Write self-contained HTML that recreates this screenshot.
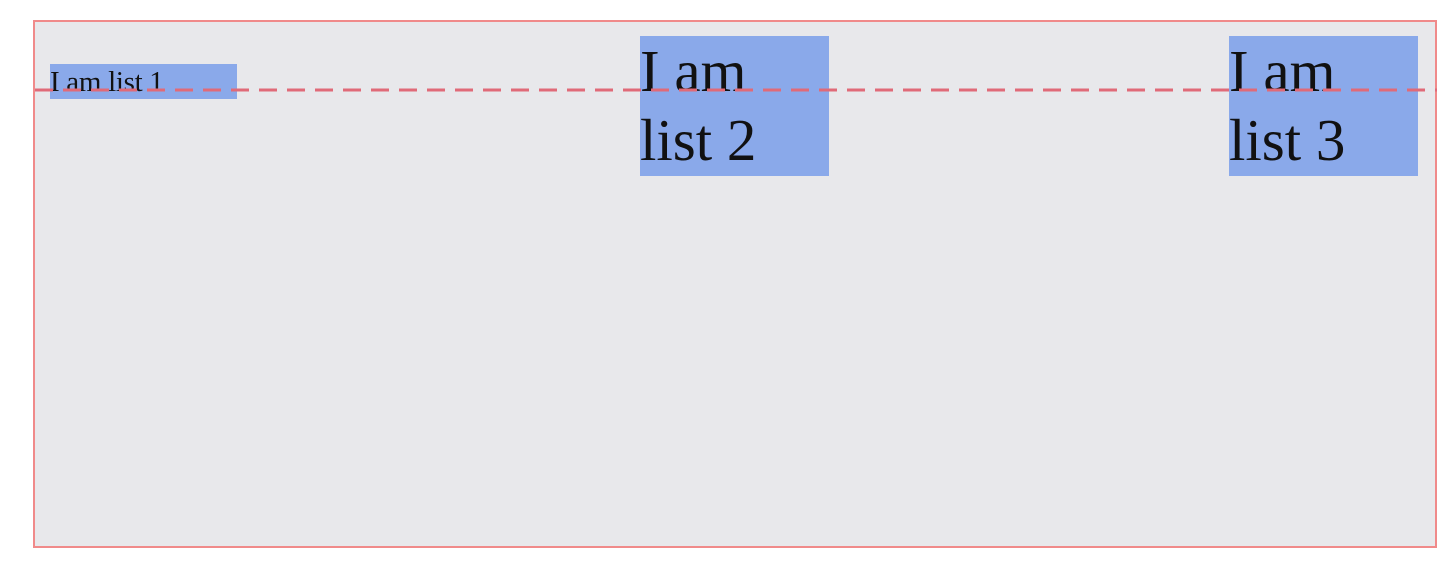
<!DOCTYPE html>
<html><head><style>
body{margin:0;width:1450px;height:562px;background:#fff;position:relative;overflow:hidden;font-family:"Liberation Serif",serif;color:#111}
.outer{position:absolute;left:33px;top:20px;width:1400px;height:524px;border:2px solid #f08a8a;background:#e8e8eb}
.b{position:absolute;background:#8aa9ea}
.t{position:absolute;white-space:nowrap}
</style></head><body>
<div class="outer"></div>
<div class="b" style="left:50px;top:64px;width:187px;height:35px"></div>
<div class="t" style="left:50px;top:65px;font-size:29px;line-height:34px;letter-spacing:-0.3px">I am list 1</div>
<div class="b" style="left:640px;top:36px;width:189px;height:140px"></div>
<div class="t" style="left:640px;top:37px;font-size:59px;line-height:69px">I am<br>list 2</div>
<div class="b" style="left:1229px;top:36px;width:189px;height:140px"></div>
<div class="t" style="left:1229px;top:37px;font-size:59px;line-height:69px">I am<br>list 3</div>
<svg style="position:absolute;left:0;top:0" width="1450" height="562"><line x1="35" y1="90" x2="1437" y2="90" stroke="#e06a78" stroke-width="3" stroke-dasharray="18,10"/></svg>
</body></html>
